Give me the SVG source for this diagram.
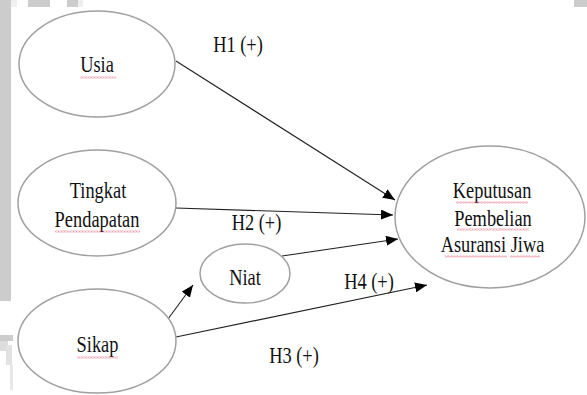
<svg xmlns="http://www.w3.org/2000/svg" width="587" height="395" viewBox="0 0 587 395">
<style>
.node ellipse{fill:#fff;stroke:#a0a0a0;stroke-width:1.5}
.t{font-family:"Liberation Serif","Times New Roman",serif;font-size:23px;fill:#111;text-anchor:middle}
.conn line{stroke:#222;stroke-width:1.1;marker-end:url(#ah)}
.sq{fill:url(#wave)}
.scan{fill:#cccccc}
</style>
<defs>
<marker id="ah" viewBox="0 0 12 10" refX="12" refY="5" markerWidth="12" markerHeight="10" markerUnits="userSpaceOnUse" orient="auto">
<path d="M0,0 L12,5 L0,10 Z" fill="#000"/>
</marker>
<pattern id="wave" width="3" height="2" patternUnits="userSpaceOnUse">
<path d="M0,1.6 L0.75,0.4 L1.5,1.6 L2.25,0.4 L3,1.6" fill="none" stroke="#e0506a" stroke-width="0.55"/>
</pattern>
</defs>
<rect width="587" height="395" fill="#fff"/>
<g id="scan-edges">
<rect class="scan" x="0" y="0" width="11" height="301"/>
<rect x="11" y="0" width="6" height="7" fill="#f0f0f0"/>
<rect class="scan" x="28" y="0" width="22" height="7"/>
<rect class="scan" x="67" y="0" width="11" height="7"/>
<rect x="78" y="0" width="5" height="7" fill="#eeeeee"/>
<rect class="scan" x="574" y="0" width="13" height="7"/>
<rect class="scan" x="0" y="335" width="13" height="6"/>
<rect x="0" y="341" width="8" height="10" fill="#dddddd"/>
<rect x="6" y="345" width="6" height="20" fill="#e2e2e2"/>
<rect x="10" y="365" width="3" height="25" fill="#e8e8e8"/>
</g>
<g id="connectors" class="conn">
<line x1="176" y1="61" x2="395" y2="200"/>
<line x1="176" y1="208" x2="393" y2="215"/>
<line x1="282" y1="256" x2="398" y2="239"/>
<line x1="176" y1="337" x2="427" y2="285"/>
<line x1="168" y1="319" x2="193" y2="285"/>
</g>
<g id="labels">
<text class="t" transform="translate(238,52) scale(0.8,1)">H1 (+)</text>
<text class="t" transform="translate(256.5,230) scale(0.8,1)">H2 (+)</text>
<text class="t" transform="translate(369,289) scale(0.8,1)">H4 (+)</text>
<text class="t" transform="translate(294,363) scale(0.8,1)">H3 (+)</text>
</g>
<g id="usia" class="node">
<ellipse cx="97" cy="64" rx="78" ry="53"/>
<text class="t" transform="translate(97,72) scale(0.8,1)">Usia</text>
<rect class="sq" x="80" y="76.5" width="36" height="2"/>
</g>
<g id="tingkat-pendapatan" class="node">
<ellipse cx="97" cy="203" rx="79" ry="53"/>
<text class="t" transform="translate(98,198) scale(0.8,1)">Tingkat</text>
<text class="t" transform="translate(97,227) scale(0.8,1)">Pendapatan</text>
<rect class="sq" x="55" y="230.5" width="85" height="2"/>
</g>
<g id="sikap" class="node">
<ellipse cx="97" cy="341" rx="79" ry="52"/>
<text class="t" transform="translate(97.5,352) scale(0.8,1)">Sikap</text>
<rect class="sq" x="77" y="356.5" width="41" height="2"/>
</g>
<g id="niat" class="node">
<ellipse cx="245" cy="273.5" rx="45" ry="29.5"/>
<text class="t" transform="translate(245,285) scale(0.8,1)">Niat</text>
</g>
<g id="keputusan" class="node">
<ellipse cx="490" cy="217" rx="95" ry="71"/>
<text class="t" transform="translate(492,198) scale(0.8,1)">Keputusan</text>
<text class="t" transform="translate(493,226) scale(0.8,1)">Pembelian</text>
<text class="t" transform="translate(492.5,252) scale(0.8,1)">Asuransi Jiwa</text>
<rect class="sq" x="456" y="201.5" width="72" height="2"/>
<rect class="sq" x="457" y="228.5" width="72" height="2"/>
<rect class="sq" x="445" y="255.5" width="62" height="2"/>
<rect class="sq" x="510" y="255.5" width="30" height="2"/>
</g>
</svg>
